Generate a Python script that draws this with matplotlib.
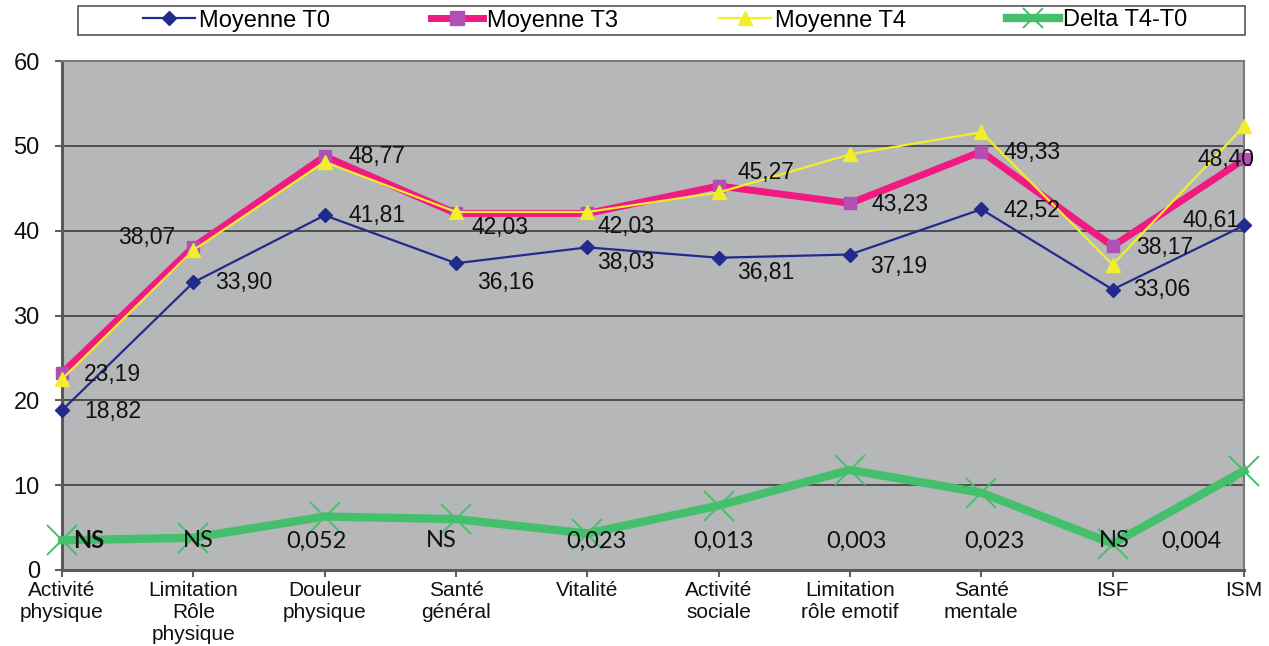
import matplotlib
matplotlib.use("Agg")
import matplotlib.pyplot as plt
from matplotlib.patches import Rectangle
from matplotlib.lines import Line2D
import numpy as np

# ---------------- data ----------------
categories = ["Activité\nphysique", "Limitation\nRôle\nphysique", "Douleur\nphysique",
              "Santé\ngénéral", "Vitalité", "Activité\nsociale", "Limitation\nrôle emotif",
              "Santé\nmentale", "ISF", "ISM"]
moyenne_t0 = [18.82, 33.90, 41.81, 36.16, 38.03, 36.81, 37.19, 42.52, 33.06, 40.61]
moyenne_t3 = [23.19, 38.07, 48.77, 42.03, 42.03, 45.27, 43.23, 49.33, 38.17, 48.40]
moyenne_t4 = [22.5, 37.7, 48.1, 42.2, 42.2, 44.5, 49.0, 51.6, 36.0, 52.3]
delta_t4_t0 = [3.5, 3.8, 6.3, 6.0, 4.3, 7.6, 11.8, 9.1, 3.1, 11.7]
p_values = ["NS", "NS", "0,052", "NS", "0,023", "0,013", "0,003", "0,023", "NS", "0,004"]
y_ticks = [0, 10, 20, 30, 40, 50, 60]
series_names = ["Moyenne T0", "Moyenne T3", "Moyenne T4", "Delta T4-T0"]

# ---------------- layout (pixel offsets of labels: dx, dy-down, ha) ----------------
t0_off = [(22, 1, "left"), (22, 0, "left"), (24, 0, "left"), (21, 19, "left"), (10, 15, "left"),
          (18, 15, "left"), (20, 12, "left"), (22, 1, "left"), (20, 0, "left"), (-4, -5, "right")]
t3_off = [(22, 1, "left"), (-18, -10, "right"), (24, 0, "left"), (16, 14, "left"), (10, 13, "left"),
          (19, -13, "left"), (22, 1, "left"), (22, 1, "left"), (23, 1, "left"), (-18, 0, "center")]
p_off = [27, 5, -8, -15, 9, 5, 7, 13, 2, -53]
P_LABEL_Y = 3.42
PX = 0.72  # points per pixel at dpi 100

AX_FONT = "Liberation Sans"
P_FONT = "Lato"

fig = plt.figure(figsize=(12.69, 6.46), dpi=100)
fig.patch.set_facecolor("white")
ax = fig.add_axes([62 / 1269, 1 - 570 / 646, (1244 - 62) / 1269, (570 - 61) / 646])
ax.set_facecolor("#B5B7B9")

x = np.arange(len(categories))

c_t0 = "#232A8E"
c_t3 = "#F01A80"
c_t3m = "#B050B5"
c_t4 = "#F2EE2C"
c_d = "#44C06C"

styles = [
    dict(color=c_t0, lw=1.6, marker="D", ms=7, mfc=c_t0, mec=c_t0),
    dict(color=c_t3, lw=5, marker="s", ms=9, mfc=c_t3m, mec=c_t3m),
    dict(color=c_t4, lw=1.6, marker="^", ms=10, mfc=c_t4, mec=c_t4),
    dict(color=c_d, lw=6, marker="x", ms=21, mew=1.4, mfc=c_d, mec=c_d),
]
all_series = [moyenne_t0, moyenne_t3, moyenne_t4, delta_t4_t0]
for k, (vals, st) in enumerate(zip(all_series, styles)):
    ax.plot(x, vals, clip_on=False, zorder=3 + k, label=series_names[k], **st)

def fmt(v):
    return f"{v:.2f}".replace(".", ",")

for i, v in enumerate(moyenne_t0):
    dx, dy, ha = t0_off[i]
    ax.annotate(fmt(v), (x[i], v), xytext=(dx * PX, -dy * PX), textcoords="offset points",
                ha=ha, va="center", fontsize=16.5, family=AX_FONT, color="#111111", zorder=8,
                annotation_clip=False)
for i, v in enumerate(moyenne_t3):
    dx, dy, ha = t3_off[i]
    ax.annotate(fmt(v), (x[i], v), xytext=(dx * PX, -dy * PX), textcoords="offset points",
                ha=ha, va="center", fontsize=16.5, family=AX_FONT, color="#111111", zorder=8,
                annotation_clip=False)
for i, s in enumerate(p_values):
    ax.annotate(s, (x[i], P_LABEL_Y), xytext=(p_off[i] * PX, 0), textcoords="offset points",
                ha="center", va="center", fontsize=17, family=P_FONT, color="#111111",
                fontweight="bold" if i == 0 else "normal", zorder=8, annotation_clip=False)

ax.set_xlim(0, len(categories) - 1)
ax.set_ylim(0, 60)
ax.set_yticks(y_ticks)
ax.set_yticklabels([str(t) for t in y_ticks], fontsize=17, family=AX_FONT, color="#111111")
ax.set_xticks(x)
ax.set_xticklabels(categories, fontsize=15, family=AX_FONT, color="#111111", linespacing=1.2)
ax.tick_params(axis="y", direction="out", length=5, width=1.5, color="#606060", pad=11)
ax.tick_params(axis="x", direction="out", length=5, width=1.5, color="#606060", pad=3)

ax.yaxis.grid(True, color="#3C3C3C", lw=1.2)
ax.set_axisbelow(True)
for side in ["left", "bottom"]:
    ax.spines[side].set_color("#5A5A5A")
    ax.spines[side].set_linewidth(2.2)
for side in ["right", "top"]:
    ax.spines[side].set_color("#7A7A7A")
    ax.spines[side].set_linewidth(1.5)

# legend (proxy handles so the Delta cross is legend-sized)
leg_styles = [dict(s) for s in styles]
leg_styles[3]["ms"] = 14
leg_styles[1]["ms"] = 10
handles = [Line2D([0], [0], **st) for st in leg_styles]
fig.patches.append(Rectangle((78 / 1269, 1 - 35 / 646), (1245 - 78) / 1269, 29 / 646,
                             transform=fig.transFigure, facecolor="white", edgecolor="#555555",
                             lw=1.2, zorder=0))
fig.legend(handles=handles, labels=series_names, loc="center",
           bbox_to_anchor=((78 + 1245) / 2 / 1269 + 0.003, 1 - 20.5 / 646),
           ncol=4, frameon=False, prop={"family": AX_FONT, "size": 17},
           handlelength=2.2, handletextpad=0.15, columnspacing=4.3, borderpad=0,
           markerscale=1.0)

fig.savefig("out.png", dpi=100, facecolor="white")
